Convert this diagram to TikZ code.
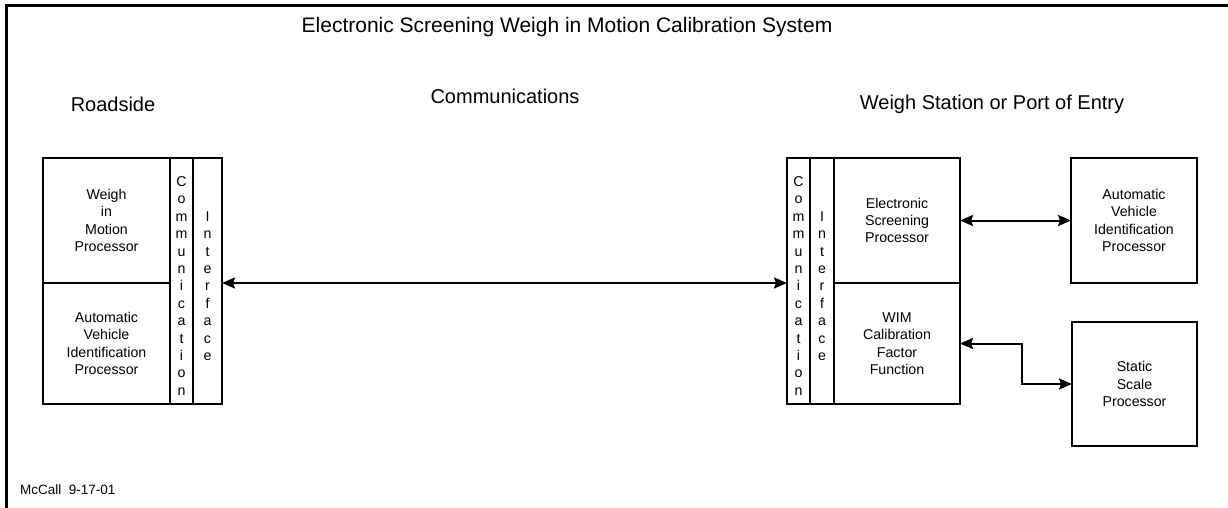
\documentclass[tikz,border=0pt]{standalone}
\usepackage{fontspec}
\setmainfont{Liberation Sans}
\usetikzlibrary{arrows.meta}
\begin{document}
\begin{tikzpicture}[x=1pt,y=-1pt,
  box/.style={draw,line width=2pt,anchor=north west,inner sep=0pt,outer sep=0pt,align=center,
    font=\fontsize{14.2}{17.4}\selectfont},
  coltext/.style={inner sep=0pt,align=center,font=\fontsize{14.2}{17.4}\selectfont,yshift=-5pt},
  head/.style={font=\fontsize{20}{24}\selectfont,inner sep=0pt},
  conn/.style={line width=2pt,{Stealth[length=13pt,width=11pt,inset=2pt]}-{Stealth[length=13pt,width=11pt,inset=2pt]}}
]
\useasboundingbox (0,0) rectangle (1228,508);
% frame
\coordinate (ftl) at (6.5,5.5);
\coordinate (ftr) at (1228,5.5);
\coordinate (fbl) at (6.5,508);
\draw[line width=2.5pt] (fbl) -- (ftl) -- (ftr);
% headings
\node[head,font=\fontsize{21}{25}\selectfont] (title) at (567,27) {Electronic Screening Weigh in Motion Calibration System};
\node[head] (road) at (113,104) {Roadside};
\node[head] (comms) at (505,96) {Communications};
\node[head] (ws) at (992,104) {Weigh Station or Port of Entry};
\node[font=\fontsize{13.5}{16}\selectfont,anchor=west,inner sep=0pt] (sig) at (20,490) {McCall\ \ 9-17-01};
% left block
\node[box,minimum width=127pt,minimum height=125pt] (wim) at (43,158) {Weigh\\in\\Motion\\Processor};
\node[box,minimum width=127pt,minimum height=121pt,text depth=0pt] (aviL) at (43,283) {Automatic\\Vehicle\\Identification\\Processor};
\node[box,minimum width=23pt,minimum height=246pt] (commL) at (170,158) {};
\node[box,minimum width=29pt,minimum height=246pt] (ifL) at (193,158) {};
\node[coltext] (commLt) at (commL.center) {C\\o\\m\\m\\u\\n\\i\\c\\a\\t\\i\\o\\n};
\node[coltext] (ifLt) at (ifL.center) {I\\n\\t\\e\\r\\f\\a\\c\\e};
% right block
\node[box,minimum width=23pt,minimum height=246pt] (commR) at (787,158) {};
\node[box,minimum width=24pt,minimum height=246pt] (ifR) at (810,158) {};
\node[coltext] (commRt) at (commR.center) {C\\o\\m\\m\\u\\n\\i\\c\\a\\t\\i\\o\\n};
\node[coltext] (ifRt) at (ifR.center) {I\\n\\t\\e\\r\\f\\a\\c\\e};
\node[box,minimum width=126pt,minimum height=125pt] (esp) at (834,158) {Electronic\\Screening\\Processor};
\node[box,minimum width=126pt,minimum height=121pt] (wimcal) at (834,283) {WIM\\Calibration\\Factor\\Function};
% outer boxes
\node[box,minimum width=126pt,minimum height=125pt] (avi) at (1071,158) {Automatic\\Vehicle\\Identification\\Processor};
\node[box,minimum width=125pt,minimum height=124pt] (ssp) at (1072,322) {Static\\Scale\\Processor};
% connectors
\draw[conn] (ifL.east |- wim.south) -- (commR.west |- wim.south);
\draw[conn] (esp.east) -- (avi.west);
\coordinate (bend) at (1022,0);
\draw[conn] (wimcal.east) -- (wimcal.east -| bend) |- (ssp.west);
\end{tikzpicture}
\end{document}
